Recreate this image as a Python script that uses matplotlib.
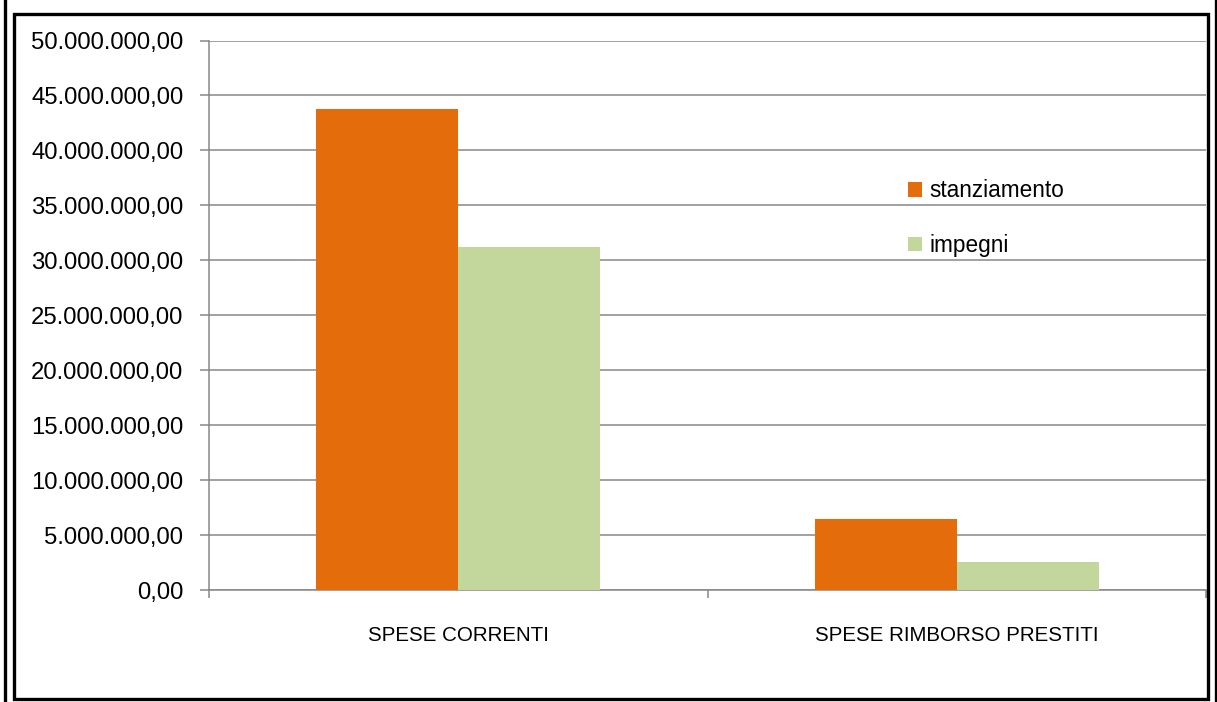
import matplotlib
matplotlib.use("Agg")
import matplotlib.pyplot as plt
from matplotlib.patches import Rectangle
from matplotlib.lines import Line2D
from matplotlib.ticker import FuncFormatter, FixedLocator
import numpy as np

plt.rcParams['font.family'] = ['Liberation Sans', 'DejaVu Sans']

categories = ["SPESE CORRENTI", "SPESE RIMBORSO PRESTITI"]
series_names = ["stanziamento", "impegni"]
stanziamento = [43800000, 6450000]
impegni = [31200000, 2550000]
colors = ["#E46C0A", "#C3D69B"]

W, H = 1217, 702
fig = plt.figure(figsize=(W / 100, H / 100), dpi=100)
fig.patch.set_facecolor("white")

def fx(px):
    return px / W

def fy(py):
    return 1 - py / H

ax = fig.add_axes([fx(209), fy(590), fx(1206) - fx(209), fy(40.5) - fy(590)])

x = np.arange(len(categories))
bw = 0.285
ax.bar(x - bw / 2, stanziamento, width=bw, color=colors[0], zorder=3, label=series_names[0])
ax.bar(x + bw / 2, impegni, width=bw, color=colors[1], zorder=3, label=series_names[1])

ax.set_xlim(-0.5, 1.5)
ax.set_ylim(0, 50000000)
ax.set_yticks(np.arange(0, 50000001, 5000000))

def it_fmt(v, pos):
    s = f"{v:,.2f}"
    return s.replace(",", "X").replace(".", ",").replace("X", ".")

ax.yaxis.set_major_formatter(FuncFormatter(it_fmt))
grid_c = "#878787"
ax.grid(axis="y", color=grid_c, linewidth=1.1, zorder=0)
ax.set_axisbelow(True)

for s in ["top", "right"]:
    ax.spines[s].set_visible(False)
for s in ["left", "bottom"]:
    ax.spines[s].set_color(grid_c)
    ax.spines[s].set_linewidth(1.1)

ax.tick_params(axis="y", direction="out", length=6.5, width=1.1, color=grid_c,
               labelsize=17.2, pad=12, labelcolor="black")
ax.set_xticks(x)
ax.set_xticklabels(categories, fontsize=14.8)
ax.tick_params(axis="x", which="major", length=0, pad=26)
ax.xaxis.set_minor_locator(FixedLocator([-0.5, 0.5, 1.5]))
ax.tick_params(axis="x", which="minor", direction="out", length=6, width=1.1, color=grid_c)

ax.legend(loc="upper left", bbox_to_anchor=(fx(897), fy(168)), bbox_transform=fig.transFigure,
          frameon=False, fontsize=16.3, handlelength=0.6, handleheight=0.6,
          handletextpad=0.35, labelspacing=1.4, borderpad=0)

# chart border with the outer rule lines
fig.patches.append(Rectangle((fx(13.5), fy(698.5)), fx(1207.5) - fx(13.5), fy(13.5) - fy(698.5),
                             transform=fig.transFigure, fill=False, edgecolor="black",
                             linewidth=2.4, zorder=10))
fig.lines.append(Line2D([fx(4.5), fx(4.5)], [0, 1], transform=fig.transFigure,
                        color="black", linewidth=2.4))
fig.lines.append(Line2D([fx(1215.5), fx(1215.5)], [0, 1], transform=fig.transFigure,
                        color="black", linewidth=2.4))

fig.savefig("out.png", dpi=100)
